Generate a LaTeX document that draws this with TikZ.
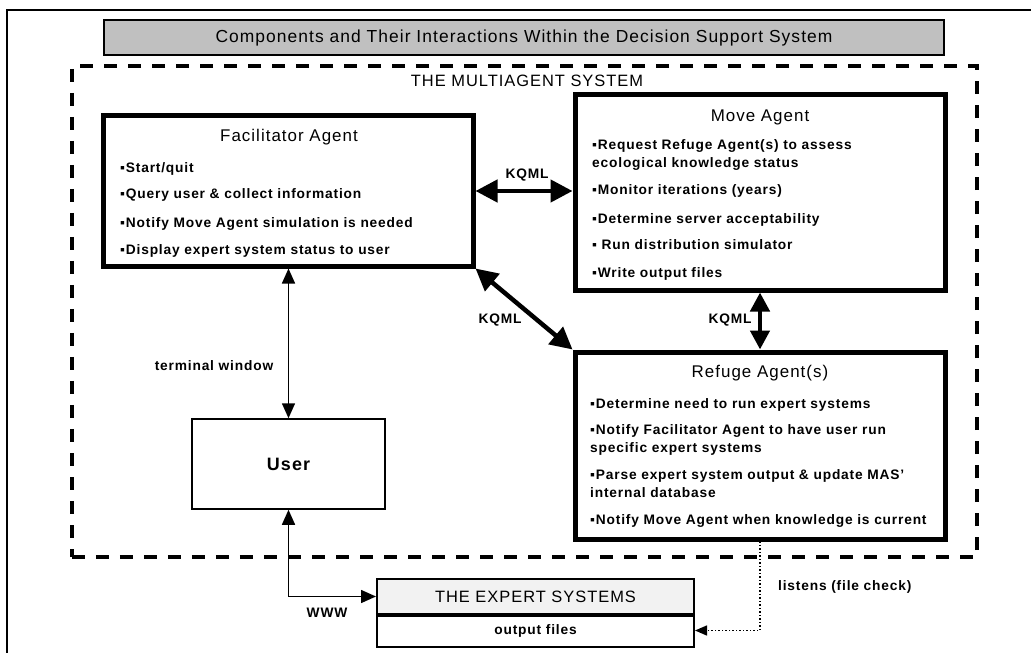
\documentclass[tikz,border=0pt]{standalone}
\usepackage{fontspec}
\setmainfont{Liberation Sans}
\newfontfamily\rfont{Liberation Sans}[LetterSpace=6]
\usetikzlibrary{arrows.meta}
\definecolor{titlegray}{HTML}{C0C0C0}
\definecolor{lightgray}{HTML}{F2F2F2}
\tikzset{
  txt/.style={font=\rfont\bfseries\fontsize{13.8}{16}\selectfont, inner sep=0pt},
  hd/.style={font=\rfont\fontsize{17}{20}\selectfont, inner sep=0pt},
  agent/.style={draw, line width=5bp, inner sep=0pt},
  thinbox/.style={draw, line width=1.5bp, inner sep=0pt},
  kqml/.style={line width=4.5bp, {Triangle[length=22bp,width=22bp]}-{Triangle[length=22bp,width=22bp]}},
  kqmlv/.style={line width=4.5bp, {Triangle[length=19bp,width=19bp]}-{Triangle[length=19bp,width=19bp]}},
  thinboth/.style={line width=1.5bp, {Triangle[length=15bp,width=13bp]}-{Triangle[length=15bp,width=13bp]}},
  dotarrow/.style={line width=1.5bp, dotted, -{Triangle[length=12bp,width=10bp]}},
}
\begin{document}
\begin{tikzpicture}[x=1bp,y=-1bp]
\useasboundingbox (0,0) rectangle (1031,653);
% outer frame
\draw[line width=2bp] (7,660) -- (7,10) -- (1040,10);
% title
\node[draw, line width=2bp, fill=titlegray, minimum width=840bp, minimum height=35bp, hd, font=\rfont\fontsize{17.5}{20}\selectfont] (title) at (524,37.5) {Components and Their Interactions Within the Decision Support System};
% multiagent system
\node[draw, dashed, line width=3.5bp, dash pattern=on 13bp off 11bp, minimum width=905bp, minimum height=491bp, inner sep=0pt] (mas) at (524.5,311.5) {};
\node[hd, font=\rfont\fontsize{16.5}{20}\selectfont] (maslabel) at (527,81) {THE MULTIAGENT SYSTEM};
% Facilitator
\node[agent, minimum width=369bp, minimum height=150bp] (fac) at (288.5,191) {};
\node[hd] (factitle) at (289,137) {Facilitator Agent};
\node[txt, anchor=base west] (f1) at (120,173) {▪Start/quit};
\node[txt, anchor=base west] (f2) at (120,199) {▪Query user \& collect  information};
\node[txt, anchor=base west] (f3) at (120,227) {▪Notify Move Agent simulation is  needed};
\node[txt, anchor=base west] (f4) at (120,254) {▪Display expert system status to user};
% Move
\node[agent, minimum width=370bp, minimum height=195bp] (move) at (760,192.5) {};
\node[hd] (movetitle) at (760,117) {Move Agent};
\node[txt, anchor=base west] (m1) at (592,150) {▪Request Refuge Agent(s) to assess};
\node[txt, anchor=base west] (m1b) at (592,168) {ecological knowledge status};
\node[txt, anchor=base west] (m2) at (592,195) {▪Monitor iterations (years)};
\node[txt, anchor=base west] (m3) at (592,223) {▪Determine server acceptability};
\node[txt, anchor=base west] (m4) at (592,249) {▪ Run distribution simulator};
\node[txt, anchor=base west] (m5) at (592,277) {▪Write output files};
% Refuge
\node[agent, minimum width=370bp, minimum height=187bp] (ref) at (760,445.5) {};
\node[hd] (reftitle) at (760,373) {Refuge Agent(s)};
\node[txt, anchor=base west] (r1) at (590,408) {▪Determine need to run expert systems};
\node[txt, anchor=base west] (r2) at (590,434) {▪Notify Facilitator Agent to have user run};
\node[txt, anchor=base west] (r2b) at (590,452) {specific expert systems};
\node[txt, anchor=base west] (r3) at (590,479) {▪Parse expert system output \& update MAS’};
\node[txt, anchor=base west] (r3b) at (590,497) {internal database};
\node[txt, anchor=base west] (r4) at (590,524) {▪Notify Move Agent when knowledge is current};
% User
\node[thinbox, minimum width=193bp, minimum height=90bp, font=\rfont\bfseries\fontsize{18}{20}\selectfont] (user) at (288.5,464) {User};
% Expert systems
\node[draw, line width=2bp, fill=lightgray, minimum width=317bp, minimum height=35bp, inner sep=0pt, hd, font=\rfont\fontsize{16.5}{20}\selectfont] (exptop) at (535.5,596.5) {THE EXPERT SYSTEMS};
\node[draw, line width=2bp, minimum width=317bp, minimum height=33bp, inner sep=0pt, txt] (expbot) at (535.5,630.5) {output files};
\draw[line width=3.5bp] (exptop.south west) -- (exptop.south east);
% connectors
\draw[kqml] (fac.east) -- (fac.east -| move.west);
\node[txt] (k1) at (527,175) {KQML};
\draw[kqml] (fac.south east) -- (ref.north west);
\node[txt] (k2) at (500,320) {KQML};
\draw[kqmlv] (move.south) -- (ref.north);
\node[txt] (k3) at (730,320) {KQML};
\draw[thinboth] (user.north) -- (fac.south);
\node[txt] (term) at (214,366) {terminal window};
\draw[thinboth] (user.south) |- (exptop.west);
\node[txt] (www) at (327,613) {WWW};
\draw[dotarrow] (ref.south) |- (expbot.east);
\node[txt, anchor=west] (listens) at (778,587) {listens (file check)};
\end{tikzpicture}
\end{document}
